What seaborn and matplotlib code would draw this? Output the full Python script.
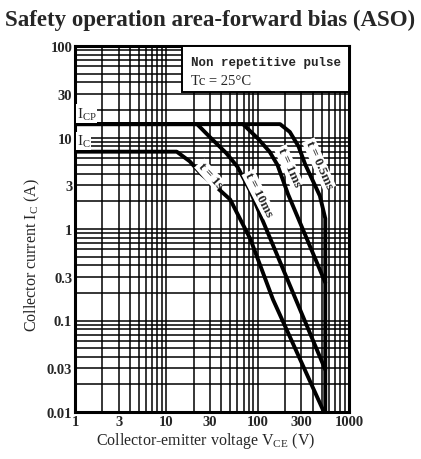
import matplotlib
matplotlib.use("Agg")
import matplotlib.pyplot as plt
import seaborn as sns
import pandas as pd
from matplotlib.patches import Rectangle
from matplotlib.ticker import FixedLocator, LogLocator, NullFormatter

sns.set_theme(style="white")
plt.rcParams["font.family"] = ["Liberation Serif", "DejaVu Serif"]
plt.rcParams["mathtext.fontset"] = "custom"
plt.rcParams["mathtext.rm"] = "Liberation Serif"

# Safe operating area boundaries (V_CE in volts, I_C in amperes)
v_1s = [1, 13, 18, 24, 35, 50, 83, 147, 520]
i_1s = [7, 7, 5.5, 4.0, 2.9, 2.1, 0.78, 0.17, 0.0105]

v_10ms = [1, 21.7, 30, 45, 60, 83, 550]
i_10ms = [14, 14, 10.1, 6.8, 4.8, 2.6, 0.029]

v_1ms = [1, 69, 100, 135, 165, 215, 550]
i_1ms = [14, 14, 9.8, 7.0, 5.0, 2.4, 0.26]

v_05ms = [1, 176, 225, 280, 331, 480, 550, 550]
i_05ms = [14, 14, 11.5, 8.0, 5.1, 2.3, 1.3, 0.01]

curve_names = ["t = 1s", "t = 10ms", "t = 1ms", "t = 0.5ms"]

x_ticks = [1, 3, 10, 30, 100, 300, 1000]
x_tick_labels = ["1", "3", "10", "30", "100", "300", "1000"]
y_ticks = [0.01, 0.03, 0.1, 0.3, 1, 3, 10, 30, 100]
y_tick_labels = ["0.01", "0.03", "0.1", "0.3", "1", "3", "10", "30", "100"]

frames = []
for name, v, i in zip(curve_names, [v_1s, v_10ms, v_1ms, v_05ms],
                      [i_1s, i_10ms, i_1ms, i_05ms]):
    frames.append(pd.DataFrame({"V": v, "I": i, "curve": name}))
df = pd.concat(frames, ignore_index=True)

fig = plt.figure(figsize=(4.21, 4.60), dpi=100)
ax = fig.add_axes([75 / 421, 47 / 460, 274 / 421, 366 / 460])
ax.set_xscale("log")
ax.set_yscale("log")
ax.set_xlim(1, 1000)
ax.set_ylim(0.01, 100)

# dense black log grid
ax.xaxis.set_minor_locator(LogLocator(base=10, subs=range(2, 10)))
ax.yaxis.set_minor_locator(LogLocator(base=10, subs=range(2, 10)))
ax.grid(True, which="both", color="black", linewidth=1.1)
ax.set_axisbelow(True)

sns.lineplot(data=df, x="V", y="I", units="curve", estimator=None,
             sort=False, color="black", linewidth=2.8, ax=ax, legend=False)

ax.xaxis.set_major_locator(FixedLocator(x_ticks))
ax.set_xticklabels(x_tick_labels, fontweight="bold", fontsize=10.5)
ax.yaxis.set_major_locator(FixedLocator(y_ticks))
ax.set_yticklabels(y_tick_labels, fontweight="bold", fontsize=10.5)
ax.xaxis.set_minor_formatter(NullFormatter())
ax.yaxis.set_minor_formatter(NullFormatter())
ax.tick_params(axis="both", which="both", length=0, pad=2)

for side in ax.spines.values():
    side.set_color("black")
    side.set_linewidth(2.2)

ax.set_xlabel("Collector-emitter voltage V$_{\\mathregular{CE}}$ (V)",
              fontsize=11.5)
ax.set_ylabel("Collector current I$_{\\mathregular{C}}$ (A)", fontsize=11.5)
ax.xaxis.set_label_coords(0.475, -0.05)
ax.yaxis.set_label_coords(-0.12, 0.43)

fig.suptitle("Safety operation area-forward bias (ASO)", x=0.5, y=0.978,
             fontsize=16.5, fontweight="bold")

white = dict(facecolor="white", edgecolor="none", pad=0.6)

# test-condition box in the upper right corner
ax.add_patch(Rectangle((0.39, 0.874), 0.61, 0.126, transform=ax.transAxes,
                       facecolor="white", edgecolor="black", linewidth=1.4,
                       zorder=5))
ax.text(0.425, 0.955, "Non repetitive pulse", transform=ax.transAxes,
        ha="left", va="center", fontsize=9, fontweight="bold",
        family=["Liberation Mono", "DejaVu Sans Mono"], zorder=6)
ax.text(0.425, 0.905, "Tc = 25°C", transform=ax.transAxes,
        ha="left", va="center", fontsize=10.5, zorder=6)

ax.text(1.04, 14.8, "I$_{\\mathregular{CP}}$", ha="left", va="bottom",
        fontsize=11, bbox=white)
ax.text(1.04, 7.4, "I$_{\\mathregular{C}}$", ha="left", va="bottom",
        fontsize=11, bbox=white)

label_pos = [(30, 3.9, -48), (103, 2.4, -63), (220, 4.8, -66), (470, 5.1, -66)]
for name, (xv, yv, rot) in zip(curve_names, label_pos):
    ax.text(xv, yv, name, ha="center", va="center", rotation=rot,
            fontsize=9.5, fontweight="bold", bbox=white)

fig.savefig("out.png", dpi=100)
